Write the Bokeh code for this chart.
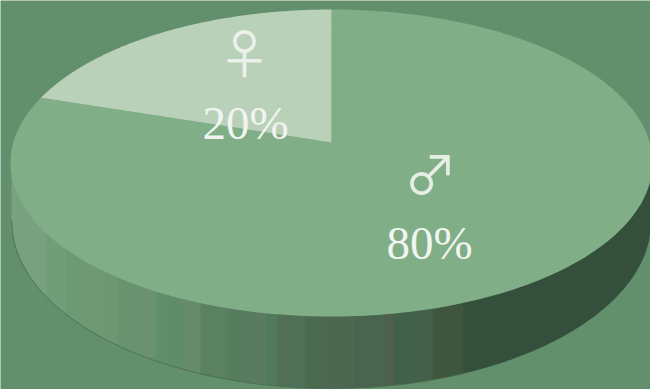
import math

import numpy as np
from bokeh.core.properties import value
from bokeh.embed import file_html
from bokeh.models import Range1d
from bokeh.plotting import figure
from bokeh.resources import INLINE

# Audience split shown on the disc
categories = ["♂", "♀"]
shares = [80, 20]
share_labels = ["80%", "20%"]

# Page geometry of the tilted disc
W, H = 650, 389
CX, APEX_Y = 331.0, 142.0
TOP_Y, BOTTOM_Y, MAX_RX = 9.0, 316.0, 321.0
LOW_CY, LOW_RY, LOW_RX = 220.0, 168.0, 320.0

BG = "#62906C"
MALE_TOP = "#80AF87"
FEMALE_TOP = "#B9D1B9"
WALL_DARK = "#354F3D"
INK = "#F1F4F0"

# Shaded bands on the visible wall: right edge in page x, and the tone of each band
wall_band_edges = [45, 65, 85, 105, 117, 133, 155, 168, 183, 200, 227, 250, 265,
                   277, 305, 330, 353, 370, 385, 393, 410, 432, 463]
wall_band_tones = ["#78A27F", "#729D79", "#6C9A74", "#6E9973", "#6F9672", "#67946F",
                   "#6A9270", "#5F8F6D", "#618C6B", "#668B69", "#5A8262", "#567E5E",
                   "#597C61", "#507A5A", "#506F56", "#4B6A4F", "#4E6750", "#48664F",
                   "#4A654D", "#4F604D", "#42614B", "#44604A", "#3E563D"]

# Perspective of a unit circle: far side is squeezed, near side is stretched
k = ((BOTTOM_Y - APEX_Y) - (APEX_Y - TOP_Y)) / ((BOTTOM_Y - APEX_Y) + (APEX_Y - TOP_Y))
b = (APEX_Y - TOP_Y) * (1 + k)
a = MAX_RX * math.sqrt(1 - k * k)


def project(theta):
    """Clockwise angle from the far side of the disc to page coordinates."""
    u, v = np.sin(theta), np.cos(theta)
    d = 1 + k * v
    return CX + a * u / d, APEX_Y - b * v / d


def wedge(start, end):
    t = np.linspace(start, end, 240)
    x, y = project(t)
    return np.r_[CX, x], np.r_[APEX_Y, y]


def lower_edge(x):
    """Lower outline of the wall at page x."""
    q = np.clip((np.asarray(x) - CX) / LOW_RX, -1, 1)
    return LOW_CY + LOW_RY * np.sqrt(1 - q * q)


p = figure(width=W, height=H, x_range=Range1d(0, W), y_range=Range1d(H, 0),
           output_backend="svg", toolbar_location=None, min_border=0,
           background_fill_color=BG, border_fill_color=BG, outline_line_color=None)
p.axis.visible = False
p.grid.visible = False

# Wall: bands reach from behind the top face down to the lower outline
left = CX - LOW_RX
edges = wall_band_edges + [CX + LOW_RX]
tones = wall_band_tones + [WALL_DARK]
for edge, tone in zip(edges, tones):
    gx = np.linspace(left, edge + 0.6, 60)
    gy = lower_edge(gx)
    p.patch(np.r_[gx, gx[::-1]], np.r_[np.full(60, LOW_CY - 70), gy[::-1]],
            fill_color=tone, line_color=None)
    left = edge

# Thin dark seam along the lit part of the lower outline
seam_x = np.linspace(CX - LOW_RX, 463, 300)
p.line(seam_x, lower_edge(seam_x), line_color="#47694F", line_width=0.8)

# Top face: wedges run clockwise from the far side, the larger share first
fractions = np.array(shares) / sum(shares)
stops = np.r_[0, np.cumsum(fractions)] * 2 * math.pi
tops = [MALE_TOP, FEMALE_TOP]
for i, colour in enumerate(tops):
    wx, wy = wedge(stops[i], stops[i + 1])
    p.patch(wx, wy, fill_color=colour, line_color=None)

# Symbols and percentages
symbol_x = [430, 244]
symbol_y = [171, 50]
label_x = [429, 245]
share_y = [242, 122]
p.text(symbol_x, symbol_y, text=categories, text_font=value("Noto Sans CJK JP"),
       text_font_size="53px", text_color=INK, text_alpha=0.9,
       text_align="center", text_baseline="middle")
p.text(label_x, share_y, text=share_labels, text_font=value("Liberation Serif"),
       text_font_size="47px", text_color=INK, text_align="center", text_baseline="middle")

open("out.html", "w").write(file_html(p, INLINE))
